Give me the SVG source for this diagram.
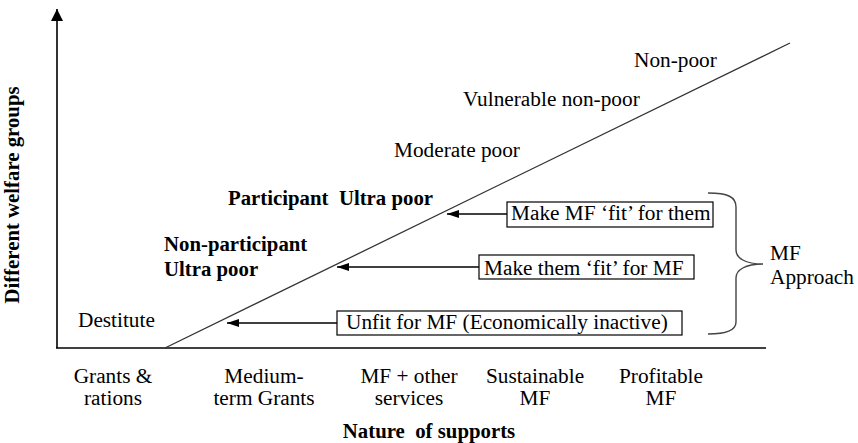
<svg xmlns="http://www.w3.org/2000/svg" width="858" height="443" viewBox="0 0 858 443">
<style>
text{font-family:"Liberation Serif","Times New Roman",serif;font-size:21.3px;fill:#000;font-weight:normal}
.b{font-weight:bold;font-size:20.8px}
.m{text-anchor:middle}
.box{fill:#fff;stroke:#000;stroke-width:1.2}
.ax{stroke:#000;stroke-width:1.6;fill:none}
.arr{stroke:#000;stroke-width:1.4;fill:none}
</style>
<defs>
<marker id="ah" markerUnits="userSpaceOnUse" markerWidth="13" markerHeight="9" refX="12" refY="4" orient="auto">
<path d="M0,0 L12,4 L0,8 z" fill="#000"/>
</marker>
<marker id="axh" markerUnits="userSpaceOnUse" markerWidth="13" markerHeight="12" refX="12" refY="6" orient="auto">
<path d="M0,0 L12,6 L0,12 z" fill="#000"/>
</marker>
</defs>
<rect width="858" height="443" fill="#fff"/>
<g id="connectors">
<line class="ax" x1="57" y1="348" x2="57" y2="9" marker-end="url(#axh)"/>
<line class="ax" x1="56" y1="348" x2="766" y2="348"/>
<line x1="165" y1="348" x2="790" y2="43" stroke="#333" stroke-width="1.3"/>
<line class="arr" x1="507" y1="214" x2="447" y2="214" marker-end="url(#ah)"/>
<line class="arr" x1="479" y1="267" x2="337" y2="267" marker-end="url(#ah)"/>
<line class="arr" x1="337" y1="323" x2="227" y2="323" marker-end="url(#ah)"/>
<path d="M708,193 C728,193 736,197 736,207 L736,250 C736,258 745,264 763,264 C745,264 736,270 736,278 L736,322 C736,330 728,334 708,334" fill="none" stroke="#444" stroke-width="1.4"/>
</g>
<g id="y-label"><text class="b m" transform="translate(19,195) rotate(-90)">Different welfare groups</text></g>
<g id="x-label"><text class="b m" x="429" y="438">Nature&#160; of supports</text></g>
<g id="non-poor"><text x="634" y="67">Non-poor</text></g>
<g id="vulnerable"><text x="463" y="106">Vulnerable non-poor</text></g>
<g id="moderate"><text x="394" y="157">Moderate poor</text></g>
<g id="participant"><text class="b" x="228" y="205">Participant&#160; Ultra poor</text></g>
<g id="non-participant"><text class="b" x="164" y="251">Non-participant</text><text class="b" x="164" y="276">Ultra poor</text></g>
<g id="destitute"><text x="78" y="327">Destitute</text></g>
<g id="box1"><rect class="box" x="507" y="202" width="206" height="25"/><text x="511" y="220">Make MF ‘fit’ for them</text></g>
<g id="box2"><rect class="box" x="479" y="255" width="215" height="24"/><text x="484" y="275">Make them ‘fit’ for MF</text></g>
<g id="box3"><rect class="box" x="337" y="311" width="345" height="24"/><text x="346" y="329">Unfit for MF (Economically inactive)</text></g>
<g id="mf-approach"><text x="770" y="260">MF</text><text x="770" y="284">Approach</text></g>
<g id="x-cat1"><text class="m" x="113" y="383">Grants &amp;</text><text class="m" x="113" y="405">rations</text></g>
<g id="x-cat2"><text class="m" x="264" y="383">Medium-</text><text class="m" x="264" y="405">term Grants</text></g>
<g id="x-cat3"><text class="m" x="409" y="383">MF + other</text><text class="m" x="409" y="405">services</text></g>
<g id="x-cat4"><text class="m" x="535" y="383">Sustainable</text><text class="m" x="535" y="405">MF</text></g>
<g id="x-cat5"><text class="m" x="661" y="383">Profitable</text><text class="m" x="661" y="405">MF</text></g>
</svg>
